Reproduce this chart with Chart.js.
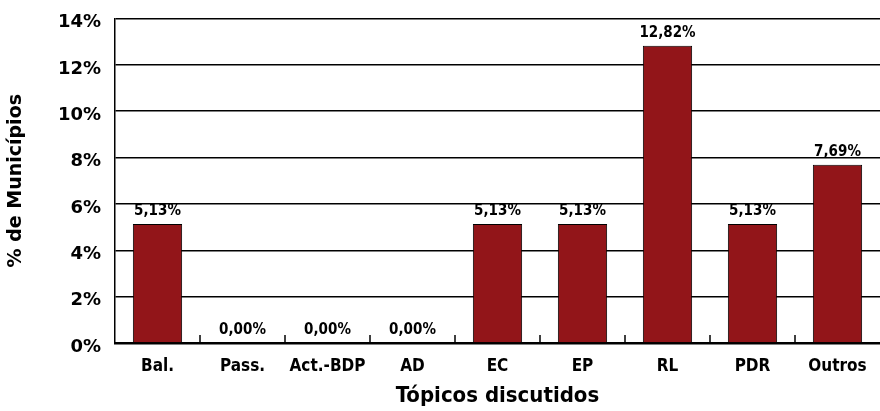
<!DOCTYPE html>
<html>
<head>
<meta charset="utf-8">
<script src="https://cdn.jsdelivr.net/npm/chart.js@4"></script>
<style>
  html, body { margin: 0; padding: 0; background: #fff; }
  #wrap { width: 880px; height: 411px; }
</style>
</head>
<body>
<div id="wrap"><canvas id="chart"></canvas></div>
<script>
const topicos = ['Bal.', 'Pass.', 'Act.-BDP', 'AD', 'EC', 'EP', 'RL', 'PDR', 'Outros'];
const percentagens = [5.13, 0, 0, 0, 5.13, 5.13, 12.82, 5.13, 7.69];
const yTicks = [0, 2, 4, 6, 8, 10, 12, 14];

const condensed = '"Liberation Sans Narrow", "DejaVu Sans Condensed", "Liberation Sans", sans-serif';
const largo = '"DejaVu Sans", "Liberation Sans", sans-serif';
const vermelho = '#921519';

// value labels above the bars + small tick marks between categories
const rotulos = {
    id: 'rotulos',
    afterDatasetsDraw(chart) {
        const ctx = chart.ctx;
        const meta = chart.getDatasetMeta(0);
        ctx.save();
        ctx.font = 'bold 15px ' + condensed;
        ctx.fillStyle = '#000';
        ctx.textAlign = 'center';
        ctx.textBaseline = 'bottom';
        meta.data.forEach((bar, i) => {
            let txt = percentagens[i].toFixed(2).replace('.', ',') + '%';
            ctx.fillText(txt, bar.x, bar.y - 5);
        });
        // inner ticks on the x axis
        const x = chart.scales.x;
        const bottom = chart.chartArea.bottom;
        ctx.strokeStyle = '#000';
        ctx.lineWidth = 1.5;
        for (let i = 1; i < topicos.length; i++) {
            let px = (x.getPixelForValue(i - 1) + x.getPixelForValue(i)) / 2;
            ctx.beginPath();
            ctx.moveTo(px, bottom);
            ctx.lineTo(px, bottom - 8);
            ctx.stroke();
        }
        ctx.restore();
    }
};

new Chart(document.getElementById('chart'), {
    type: 'bar',
    data: {
        labels: topicos,
        datasets: [{
            data: percentagens,
            backgroundColor: vermelho,
            borderColor: '#000',
            borderWidth: 1,
            categoryPercentage: 1,
            barPercentage: 0.58
        }]
    },
    options: {
        responsive: true,
        maintainAspectRatio: false,
        animation: false,
        layout: { padding: { top: 15, right: 0, left: 0, bottom: 0 } },
        plugins: {
            legend: { display: false },
            tooltip: { enabled: false }
        },
        scales: {
            x: {
                grid: { display: false },
                border: { color: '#000', width: 2.5 },
                ticks: {
                    color: '#000',
                    font: { family: condensed, size: 17, weight: 'bold' },
                    padding: 5
                },
                title: {
                    display: true,
                    text: 'Tópicos discutidos',
                    color: '#000',
                    font: { family: condensed, size: 22, weight: 'bold' },
                    padding: { top: 1, bottom: 2 }
                },
                afterFit(scale) { scale.height = 68; }
            },
            y: {
                min: 0,
                max: 14,
                afterBuildTicks(scale) {
                    scale.ticks = yTicks.map(v => ({ value: v }));
                },
                grid: {
                    color: '#000',
                    lineWidth: 1.5,
                    drawTicks: false
                },
                border: { color: '#000', width: 1.5 },
                ticks: {
                    color: '#000',
                    font: { family: largo, size: 18, weight: 'bold', lineHeight: 0.5 },
                    padding: 14,
                    labelOffset: 4,
                    callback: v => v + '%'
                },
                title: {
                    display: true,
                    text: '% de Municípios',
                    color: '#000',
                    font: { family: largo, size: 19, weight: 'bold' },
                    padding: { top: 5, bottom: 0 }
                },
                afterFit(scale) { scale.width = 115; }
            }
        }
    },
    plugins: [rotulos]
});
</script>
</body>
</html>
